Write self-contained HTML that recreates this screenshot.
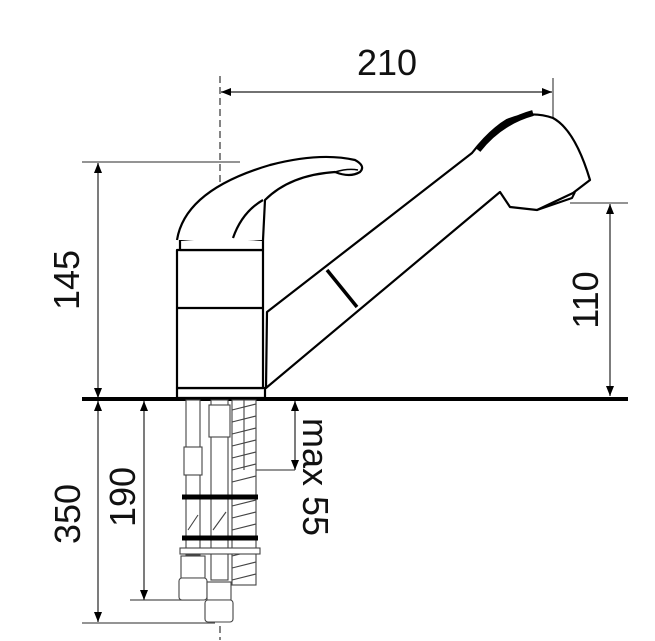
<!DOCTYPE html>
<html><head><meta charset="utf-8"><style>html,body{margin:0;padding:0;background:#fff}svg{display:block}</style></head><body>
<svg width="655" height="641" viewBox="0 0 655 641" xmlns="http://www.w3.org/2000/svg" font-family="Liberation Sans, sans-serif">
<defs>
<marker id="a" viewBox="0 0 10 10" refX="10" refY="5" markerWidth="10" markerHeight="10" markerUnits="userSpaceOnUse" orient="auto-start-reverse"><path d="M0,1 L10,5 L0,9 Z" fill="#000"/></marker>
</defs>
<g stroke="#555" stroke-width="1.3" fill="none">
<line x1="82" y1="162" x2="240" y2="162"/>
<line x1="553" y1="78" x2="553" y2="118"/>
<line x1="570" y1="203" x2="628" y2="203"/>
<line x1="82" y1="623" x2="215" y2="623"/>
<line x1="130" y1="600" x2="200" y2="600"/>
<line x1="250" y1="470" x2="295" y2="470"/>
</g>
<line x1="553" y1="118" x2="553" y2="195" stroke="#555" stroke-width="1.2" stroke-dasharray="6,4"/>
<line x1="220" y1="76" x2="220" y2="640" stroke="#333" stroke-width="1.2" stroke-dasharray="7,4"/>
<g stroke="#444" stroke-width="1.4" marker-start="url(#a)" marker-end="url(#a)">
<line x1="221" y1="92" x2="552" y2="92"/>
<line x1="98" y1="163" x2="98" y2="398"/>
<line x1="610" y1="204" x2="610" y2="396"/>
<line x1="98" y1="401" x2="98" y2="622"/>
<line x1="144" y1="401" x2="144" y2="600"/>
<line x1="295" y1="401" x2="295" y2="470"/>
</g>
<line x1="82" y1="399" x2="628" y2="399" stroke="#000" stroke-width="4"/>
<g stroke="#000" stroke-width="2.2" fill="#fff" stroke-linejoin="round">
<path d="M266,388 L267,312 L472,153 Q490,130 507,120 Q530,110 553,118 Q575,130 590,180 L573,193 L537,210 L510,207 L500,192 L266,388 Z"/>
<path d="M478,150 Q500,122 533,113" stroke-width="6" fill="none"/>
<path d="M537,210 L572,198 L575,192" stroke-width="2" fill="none"/>
<line x1="327" y1="270" x2="357" y2="307" stroke-width="3.5"/>
<rect x="177" y="388" width="88" height="10"/>
<rect x="177" y="250" width="86" height="138"/>
<line x1="177" y1="308" x2="263" y2="308"/>
<path d="M180,240 Q220,236 263,240 L263,250 L180,250 Z"/>
<path d="M177,240 Q185,190 270,165 Q320,152 355,160 Q366,166 360,172 Q350,178 335,172 Q290,175 265,200 L263,240"/>
<path d="M263,200 Q242,212 233,238" fill="none"/>
<path d="M335,172 Q348,168 358,170" fill="none" stroke-width="1.5"/>
</g>
<g stroke="#444" stroke-width="1.1" fill="#fff">
<rect x="186" y="400" width="14" height="155"/>
<rect x="184" y="447" width="18" height="28"/>
<rect x="211" y="400" width="17" height="180"/>
<rect x="209" y="405" width="21" height="32"/>
<rect x="232" y="400" width="24" height="185"/>
<path d="M232,410 L256,404 M232,422 L256,416 M232,434 L256,428 M232,446 L256,440 M232,458 L256,452 M232,470 L256,464 M232,482 L256,476 M232,506 L256,500 M232,518 L256,512 M232,530 L256,524 M232,556 L256,550 M232,568 L256,562 M232,580 L256,574" fill="none"/>
<line x1="244" y1="400" x2="244" y2="470"/>
<path d="M188,530 L198,515 M213,530 L226,512" fill="none"/>
<rect x="180" y="548" width="80" height="6"/>
<rect x="181" y="556" width="24" height="22"/>
<rect x="179" y="578" width="28" height="22" rx="3"/>
<rect x="207" y="582" width="24" height="18"/>
<rect x="205" y="600" width="28" height="22" rx="3"/>
</g>
<g stroke="#000" stroke-width="5">
<line x1="182" y1="497" x2="258" y2="497"/>
<line x1="182" y1="538" x2="258" y2="538"/>
</g>
<g font-size="36" fill="#111" text-anchor="middle">
<text x="387" y="75">210</text>
<text transform="translate(79,280) rotate(-90)">145</text>
<text transform="translate(598,300) rotate(-90)">110</text>
<text transform="translate(80,514) rotate(-90)">350</text>
<text transform="translate(135,497) rotate(-90)">190</text>
<text transform="translate(303,477) rotate(90)">max 55</text>
</g>
</svg>
</body></html>
